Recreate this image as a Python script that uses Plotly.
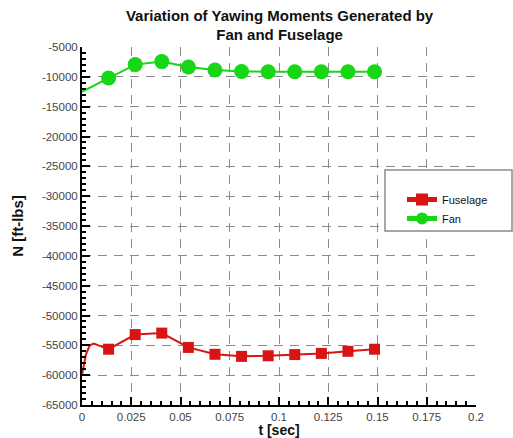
import plotly.graph_objects as go

# Sampled time instants with symbols (s)
t_marked = [0.0135, 0.027, 0.0405, 0.054, 0.0675, 0.081, 0.0945, 0.108, 0.1215, 0.135, 0.1485]
# Yawing moment on the fuselage and the fan (ft-lbs)
fuselage_marked = [-55650, -53200, -52950, -55350, -56500, -56850, -56750, -56550, -56350, -56000, -55650]
fan_marked = [-10200, -7950, -7450, -8350, -8850, -9100, -9150, -9150, -9150, -9150, -9150]

# Start-up transient before the first symbol
t_start_fus = [0.0, 0.001, 0.002, 0.004, 0.006, 0.009, 0.0135]
fuselage_start = [-60000, -58000, -56500, -55000, -54700, -55100, -55650]
t_start_fan = [0.0, 0.007, 0.0135]
fan_start = [-12500, -11350, -10200]

x_ticks = [0, 0.025, 0.05, 0.075, 0.1, 0.125, 0.15, 0.175, 0.2]
x_tick_text = ["0", "0.025", "0.05", "0.075", "0.1", "0.125", "0.15", "0.175", "0.2"]
y_ticks = list(range(-65000, -4999, 5000))
y_tick_text = [str(v) for v in y_ticks]

RED = "#d81414"
GREEN = "#16d616"
FONT = "Liberation Sans, Arial, sans-serif"

fig = go.Figure()
fig.add_trace(go.Scatter(x=t_start_fus, y=fuselage_start, mode="lines",
                         line=dict(color=RED, width=2), showlegend=False, hoverinfo="skip"))
fig.add_trace(go.Scatter(x=t_start_fan, y=fan_start, mode="lines",
                         line=dict(color=GREEN, width=2), showlegend=False, hoverinfo="skip"))
fig.add_trace(go.Scatter(x=t_marked, y=fuselage_marked, mode="lines+markers", name="Fuselage",
                         line=dict(color=RED, width=2),
                         marker=dict(symbol="square", size=11, color=RED)))
fig.add_trace(go.Scatter(x=t_marked, y=fan_marked, mode="lines+markers", name="Fan",
                         line=dict(color=GREEN, width=2),
                         marker=dict(symbol="circle", size=15, color=GREEN)))

# White framed panel behind the legend entries
fig.add_shape(type="rect", xref="paper", yref="paper",
              x0=(385 - 82) / 394, x1=(512 - 82) / 394,
              y0=(405 - 231) / 358, y1=(405 - 170) / 358,
              fillcolor="white", line=dict(color="#8a8a8a", width=1.5), layer="above")

fig.update_layout(
    width=513, height=438,
    margin=dict(l=82, r=37, t=47, b=33),
    paper_bgcolor="white", plot_bgcolor="white",
    font=dict(family=FONT, size=12, color="#222"),
    title=dict(text="<b>Variation of Yawing Moments Generated by<br>Fan and Fuselage</b>",
               x=0.545, xanchor="center", y=0.953, yanchor="top",
               font=dict(family=FONT, size=15, color="#111")),
    legend=dict(x=(402 - 82) / 394, y=(405 - 185) / 358, xanchor="left", yanchor="top",
                bgcolor="rgba(0,0,0,0)", borderwidth=0,
                font=dict(family=FONT, size=11, color="#111"),
                tracegroupgap=0, itemsizing="constant"),
    showlegend=True,
)
fig.update_xaxes(
    range=[0, 0.2], tickvals=x_ticks, ticktext=x_tick_text, automargin=False,
    showgrid=True, gridcolor="#8a8a8a", gridwidth=1, griddash="9px,7px",
    showline=True, linecolor="black", linewidth=2, zeroline=False,
    ticks="inside", ticklen=8, tickcolor="black", tickwidth=2,
    minor=dict(ticks="inside", ticklen=4, tickcolor="black", dtick=0.005, showgrid=False),
    tickfont=dict(family=FONT, size=11.5, color="#444"),
    title=dict(text="<b>t [sec]</b>", font=dict(family=FONT, size=14, color="#111"), standoff=1),
)
fig.update_yaxes(
    range=[-65000, -5000], tickvals=y_ticks, ticktext=y_tick_text, automargin=False,
    showgrid=True, gridcolor="#8a8a8a", gridwidth=1, griddash="9px,7px",
    showline=True, linecolor="black", linewidth=2, zeroline=False,
    ticks="inside", ticklen=8, tickcolor="black", tickwidth=2,
    minor=dict(ticks="inside", ticklen=4, tickcolor="black", dtick=1000, showgrid=False),
    tickfont=dict(family=FONT, size=11.5, color="#444"),
    title=dict(text="<b>N [ft-lbs]</b>", font=dict(family=FONT, size=15, color="#111")),
)

fig.write_html("out.html")
